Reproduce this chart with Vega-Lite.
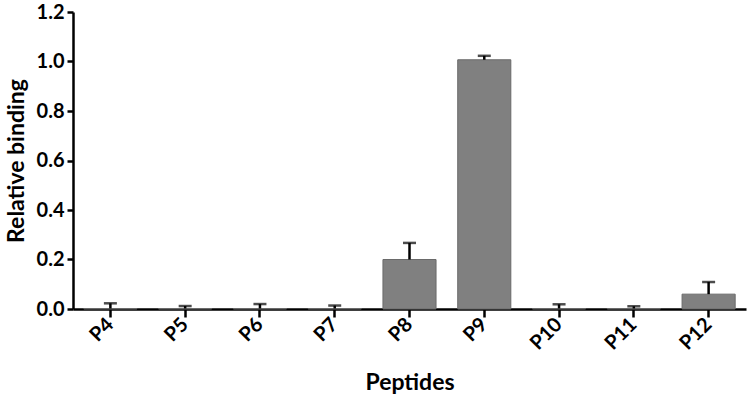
{
  "$schema": "https://vega.github.io/schema/vega-lite/v6.json",
  "width": 673,
  "height": 297,
  "autosize": {"type": "none"},
  "padding": {"left": 73, "top": 12, "right": 10, "bottom": 94},
  "background": "white",
  "config": {
    "view": {"stroke": null},
    "font": "Lato",
    "axis": {"grid": false, "domainColor": "black", "tickColor": "black", "labelColor": "black", "titleColor": "black", "labelFont": "Lato", "titleFont": "Lato"}
  },
  "data": {
    "values": [
      {"peptide": "P4", "value": 0.002, "upper": 0.023},
      {"peptide": "P5", "value": 0.002, "upper": 0.012},
      {"peptide": "P6", "value": 0.002, "upper": 0.020},
      {"peptide": "P7", "value": 0.002, "upper": 0.014},
      {"peptide": "P8", "value": 0.200, "upper": 0.267},
      {"peptide": "P9", "value": 1.007, "upper": 1.023},
      {"peptide": "P10", "value": 0.002, "upper": 0.019},
      {"peptide": "P11", "value": 0.002, "upper": 0.011},
      {"peptide": "P12", "value": 0.060, "upper": 0.109}
    ]
  },
  "encoding": {
    "x": {
      "field": "peptide", "type": "nominal", "sort": null,
      "scale": {"paddingInner": 0.29, "paddingOuter": 0.145},
      "axis": {
        "title": "Peptides", "titleFontSize": 23, "titleFontWeight": "bold", "titlePadding": 18,
        "labelAngle": -45, "labelAlign": "right", "labelBaseline": "middle",
        "labelFontSize": 20, "labelFontWeight": "bold", "labelPadding": 4,
        "domainWidth": 2.5, "tickWidth": 2.5, "tickSize": 8
      }
    }
  },
  "layer": [
    {
      "mark": {"type": "bar", "color": "#808080", "stroke": "#6a6a6a", "strokeWidth": 1},
      "encoding": {
        "y": {
          "field": "value", "type": "quantitative",
          "scale": {"domain": [0, 1.2], "nice": false},
          "axis": {
            "title": "Relative binding", "titleFontSize": 23, "titleFontWeight": "bold", "titlePadding": 8,
            "values": [0, 0.2, 0.4, 0.6, 0.8, 1.0, 1.2], "format": ".1f",
            "labelFontSize": 20, "labelFontWeight": "bold", "labelPadding": 3,
            "domainWidth": 2.5, "tickWidth": 2.5, "tickSize": 6
          }
        }
      }
    },
    {
      "mark": {"type": "rule", "color": "black", "strokeWidth": 2.5},
      "encoding": {
        "y": {"field": "value", "type": "quantitative"},
        "y2": {"field": "upper"}
      }
    },
    {
      "mark": {"type": "tick", "color": "black", "thickness": 2.5, "size": 13},
      "encoding": {
        "y": {"field": "upper", "type": "quantitative"}
      }
    }
  ]
}
